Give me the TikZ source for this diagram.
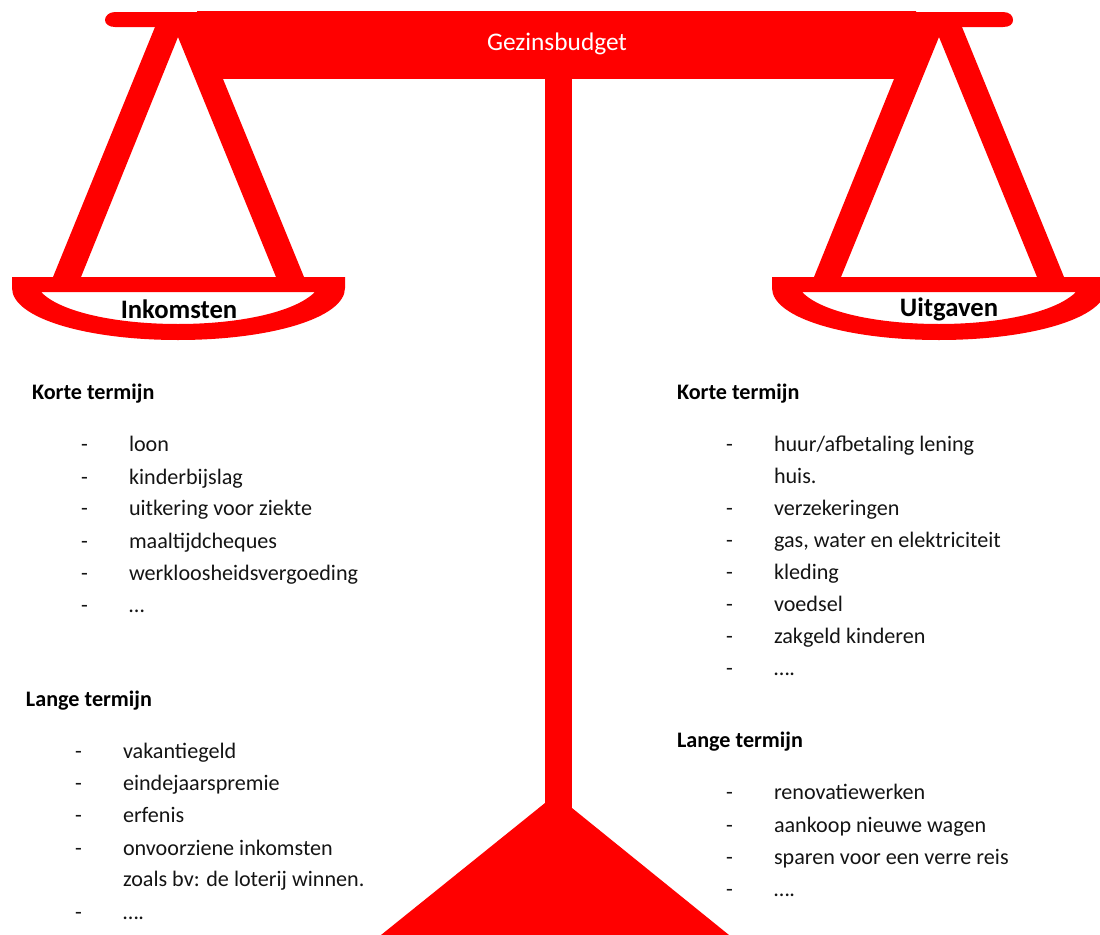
\documentclass[tikz,border=0pt]{standalone}
\usepackage{fontspec}
\setmainfont{Carlito}
\definecolor{scalered}{RGB}{255,0,0}
\definecolor{bodyink}{RGB}{20,20,20}
\tikzset{
  x=0.75pt,y=-0.75pt,
  redpart/.style={fill=scalered,draw=none},
  item/.style={anchor=base west,inner sep=0pt,outer sep=0pt,font=\fontsize{16.6}{20}\selectfont,text=bodyink},
  dashitem/.style={anchor=base west,inner sep=0pt,outer sep=0pt,font=\fontsize{16.6}{20}\selectfont,text=bodyink},
  heading/.style={anchor=base west,inner sep=0pt,outer sep=0pt,font=\fontsize{16.6}{20}\selectfont\bfseries,text=black},
  panlabel/.style={anchor=base,inner sep=0pt,outer sep=0pt,font=\fontsize{20}{24}\selectfont\bfseries,text=black}
}
\newcommand{\listitem}[4]{%
  \node[dashitem] (d#4) at (#1,#3) {-};
  \node[item] (t#4) at (#1+48,#3) {#2};
}
\begin{document}
\begin{tikzpicture}
\useasboundingbox (0,0) rectangle (1100,935);
% beam
\fill[redpart] (115,12) -- (197,12) -- (197,11) -- (916,11) -- (916,12) -- (1003,12)
  .. controls (1010,12) and (1013,16) .. (1013,20)
  .. controls (1013,24) and (1010,27) .. (1003,27) -- (115,27)
  .. controls (109,27) and (105,24) .. (105,20)
  .. controls (105,16) and (109,12) .. (115,12) -- cycle;
\fill[redpart] (197,11) rectangle (916,79);
% post and base
\fill[redpart] (545,79) rectangle (572,810);
\fill[redpart] (545,803) -- (572,808) -- (729,935) -- (381,935) -- cycle;
% left hanger
\fill[redpart,even odd rule] (155,27) -- (200,27) -- (223,79) -- (304,277) -- (53,277) -- cycle
  (178,37) -- (276,277) -- (81,277) -- cycle;
% right hanger
\fill[redpart,even odd rule] (916,27) -- (962,27) -- (1064,277) -- (814,277) -- (894,79) -- cycle
  (939,37) -- (1037,277) -- (841,277) -- cycle;
% pans
\fill[redpart,even odd rule] (12,277) -- (345,277) -- (345,288)
  .. controls (345,318) and (270,340) .. (178,340)
  .. controls (86,340) and (12,318) .. (12,288) -- cycle
  (41,292) -- (315,292) .. controls (295,312) and (240,324) .. (178,324)
  .. controls (116,324) and (60,312) .. (41,292) -- cycle;
\fill[redpart,even odd rule] (772,277) -- (1106,277) -- (1106,288)
  .. controls (1106,318) and (1031,340) .. (939,340)
  .. controls (847,340) and (772,318) .. (772,288) -- cycle
  (802,292) -- (1076,292) .. controls (1056,312) and (1001,324) .. (939,324)
  .. controls (877,324) and (821,312) .. (802,292) -- cycle;
% labels
\node[anchor=base,inner sep=0pt,font=\fontsize{19}{23}\selectfont,text=white] (title) at (557,50) {Gezinsbudget};
\node[panlabel] (ink) at (179,318) {Inkomsten};
\node[panlabel] (uit) at (949,316) {Uitgaven};
% left column
\node[heading] (h1) at (32,399) {Korte termijn};
\listitem{81}{loon}{451}{a1}
\listitem{81}{kinderbijslag}{484}{a2}
\listitem{81}{uitkering voor ziekte}{515}{a3}
\listitem{81}{maaltijdcheques}{548}{a4}
\listitem{81}{werkloosheidsvergoeding}{580}{a5}
\listitem{81}{…}{612}{a6}
\node[heading] (h2) at (26,706) {Lange termijn};
\listitem{75}{vakantiegeld}{758}{b1}
\listitem{75}{eindejaarspremie}{790}{b2}
\listitem{75}{erfenis}{822}{b3}
\listitem{75}{onvoorziene inkomsten}{855}{b4}
\node[item] (b4b) at (123,886) {zoals bv: de loterij winnen.};
\listitem{75}{….}{919}{b5}
% right column
\node[heading] (h3) at (677,399) {Korte termijn};
\listitem{726}{huur/afbetaling lening}{451}{c1}
\node[item] (c1b) at (774,483) {huis.};
\listitem{726}{verzekeringen}{515}{c2}
\listitem{726}{gas, water en elektriciteit}{547}{c3}
\listitem{726}{kleding}{579}{c4}
\listitem{726}{voedsel}{611}{c5}
\listitem{726}{zakgeld kinderen}{643}{c6}
\listitem{726}{….}{675}{c7}
\node[heading] (h4) at (677,747) {Lange termijn};
\listitem{726}{renovatiewerken}{799}{e1}
\listitem{726}{aankoop nieuwe wagen}{832}{e2}
\listitem{726}{sparen voor een verre reis}{864}{e3}
\listitem{726}{….}{896}{e4}
\end{tikzpicture}
\end{document}
